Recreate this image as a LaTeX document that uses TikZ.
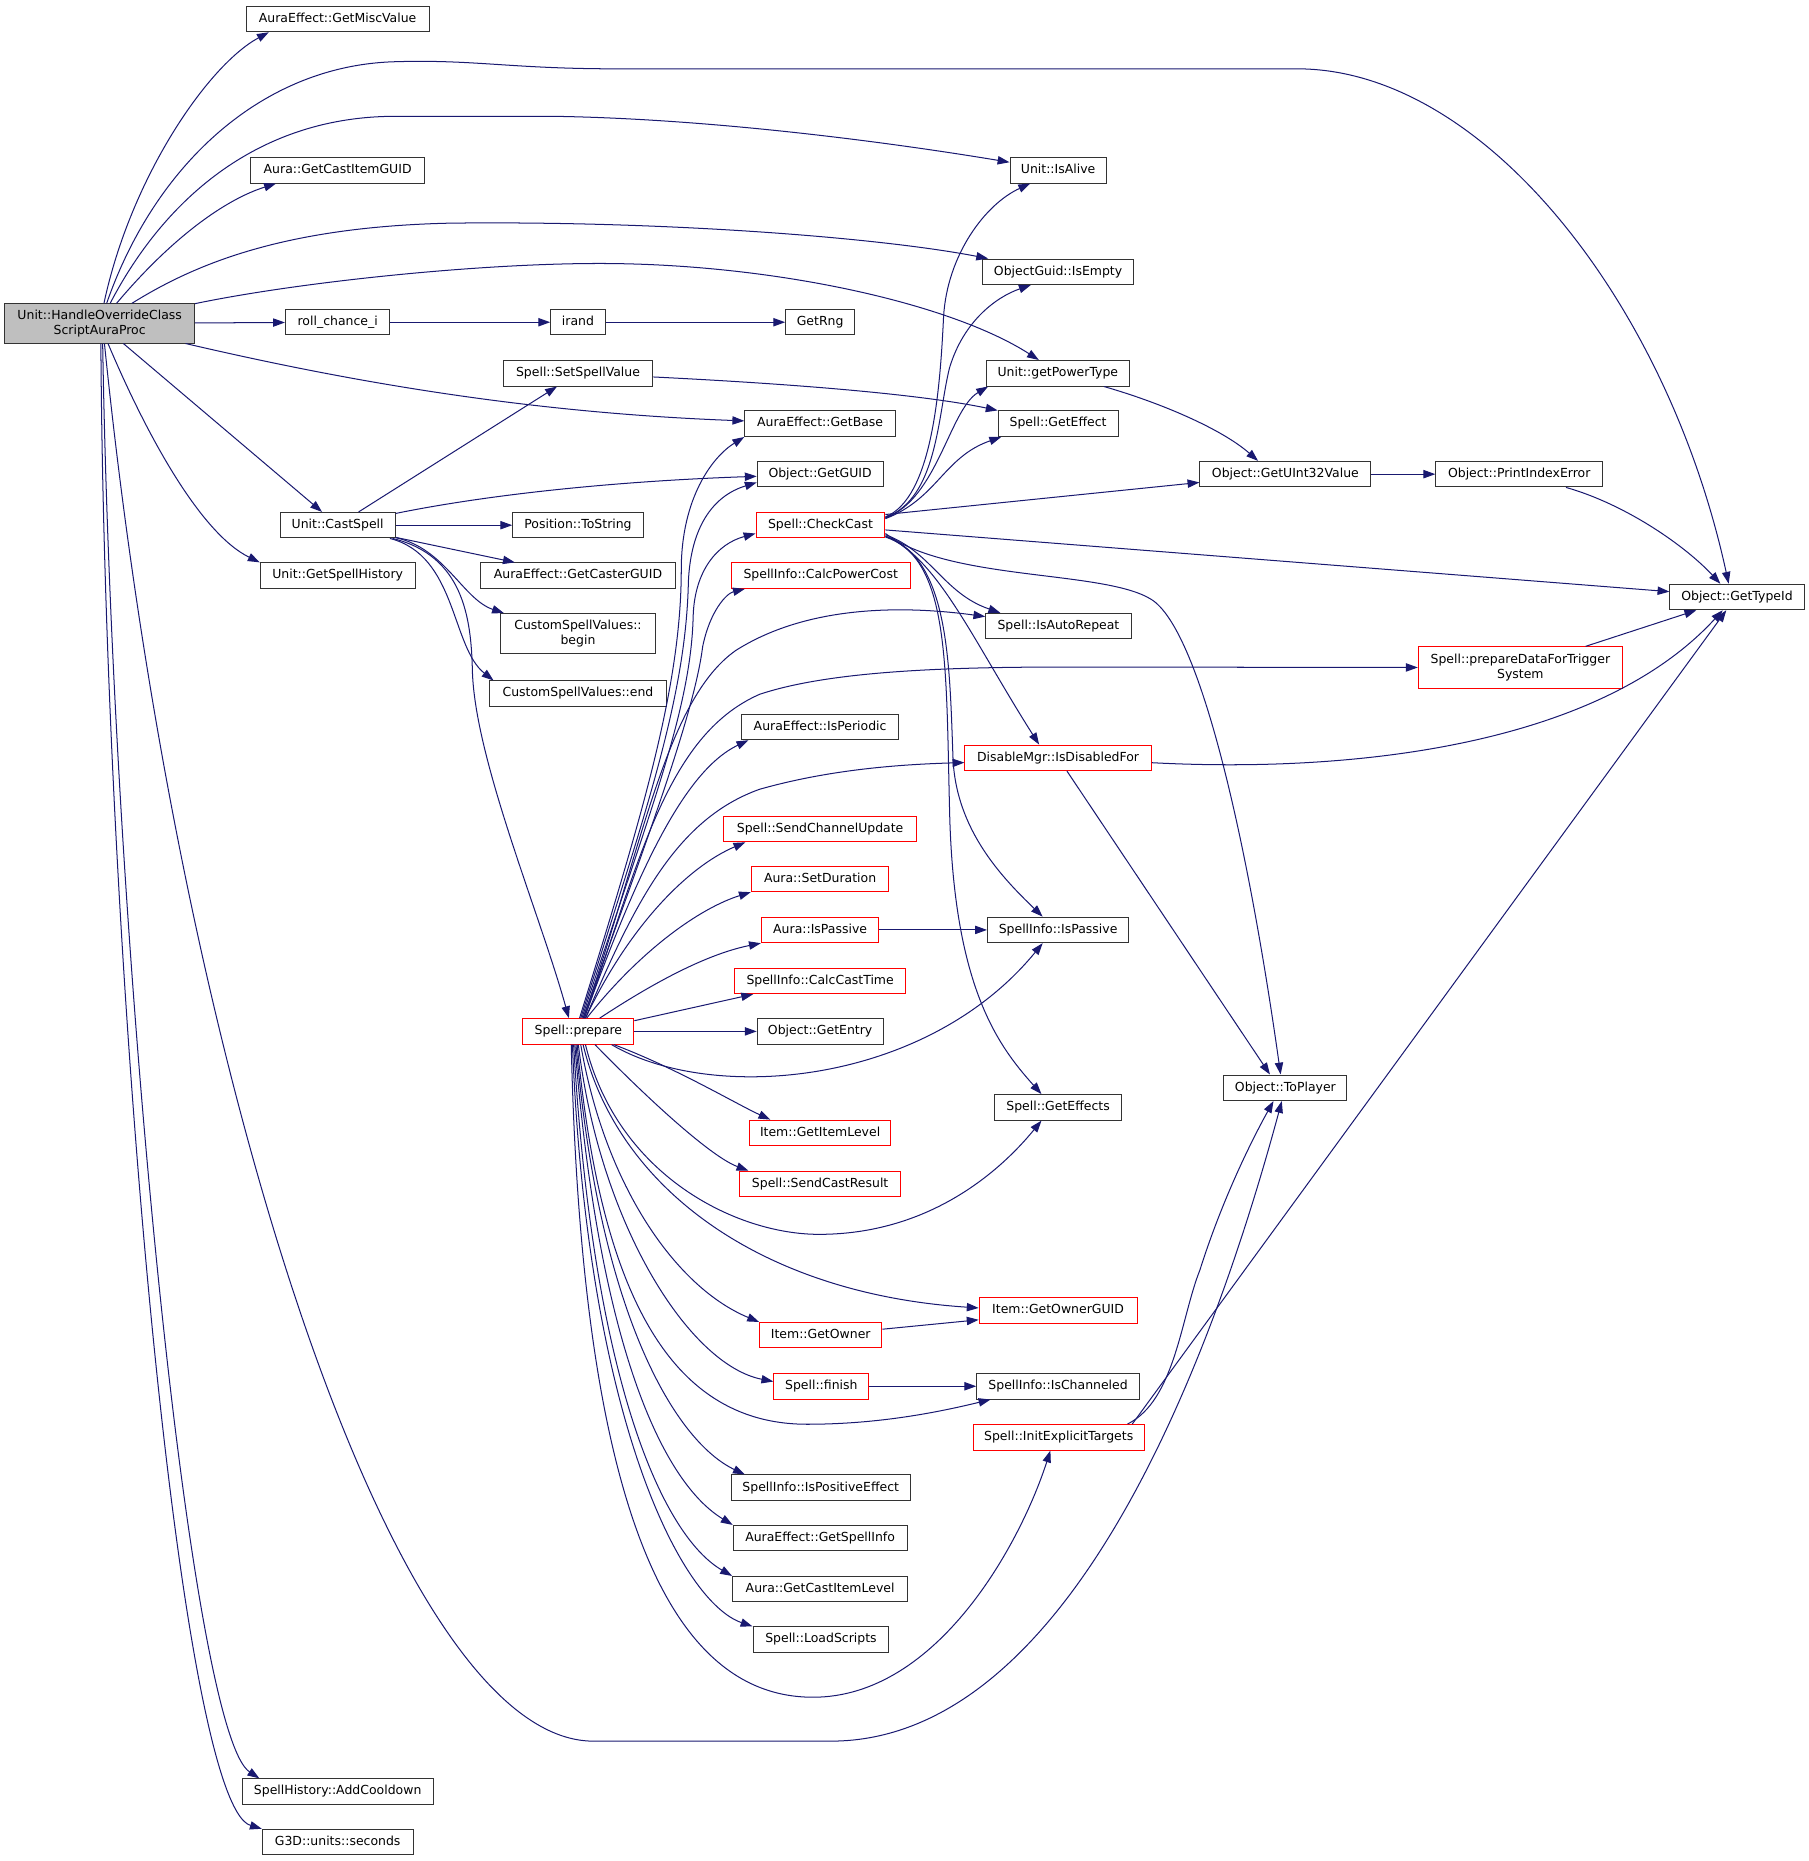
\documentclass[tikz,border=0pt]{standalone}
\usepackage{fontspec}
\setmainfont{DejaVu Sans}
\usetikzlibrary{arrows.meta}
\definecolor{edgeblue}{HTML}{191970}
\begin{document}
\begin{tikzpicture}[x=1pt, y=-1pt,
  fbox/.style={draw=black!80, fill=white, line width=0.85pt, inner xsep=2pt, inner ysep=0pt, font=\fontsize{10.5}{12.5}\selectfont},
  fn/.style={fbox, minimum height=21.5pt, text height=8pt, text depth=2.5pt},
  trunc/.style={draw=red},
  call/.style={draw=edgeblue, line width=0.85pt, -{Triangle[length=10pt, width=7pt]}}]
\useasboundingbox (0,0) rectangle (1524,1568);
\node[fbox, fill=black!25, minimum width=160pt, minimum height=33pt, align=center] (main) at (84,272.5) {Unit::HandleOverrideClass\\ScriptAuraProc};
\node[fn, minimum width=154pt] (miscval) at (284.5,16) {AuraEffect::GetMiscValue};
\node[fn, minimum width=147pt] (castguid) at (284.5,143.5) {Aura::GetCastItemGUID};
\node[fn, minimum width=88pt] (roll) at (284.5,271.5) {roll\_chance\_i};
\node[fn, minimum width=97pt] (castspell) at (284.5,442.5) {Unit::CastSpell};
\node[fn, minimum width=130.5pt] (history) at (284.5,485) {Unit::GetSpellHistory};
\node[fn, minimum width=161pt] (cooldown) at (284.5,1509.5) {SpellHistory::AddCooldown};
\node[fn, minimum width=127pt] (seconds) at (284.5,1552) {G3D::units::seconds};
\node[fn, minimum width=46pt] (irand) at (487,271.5) {irand};
\node[fn, minimum width=126pt] (setval) at (487,314.5) {Spell::SetSpellValue};
\node[fn, minimum width=110pt] (tostring) at (487,442.5) {Position::ToString};
\node[fn, minimum width=164.5pt] (casterguid) at (487,485) {AuraEffect::GetCasterGUID};
\node[fbox, minimum width=130pt, minimum height=34pt, align=center] (cvbegin) at (487,534) {CustomSpellValues::\\begin};
\node[fn, minimum width=149.5pt] (cvend) at (487,584.5) {CustomSpellValues::end};
\node[fn, trunc, minimum width=93.5pt] (prepare) at (487.3,869) {Spell::prepare};
\node[fn, minimum width=58pt] (getrng) at (691,271.5) {GetRng};
\node[fn, minimum width=127pt] (getbase) at (691,357) {AuraEffect::GetBase};
\node[fn, minimum width=106pt] (getguid) at (691,399.5) {Object::GetGUID};
\node[fn, trunc, minimum width=108.6pt] (checkcast) at (691.3,442.5) {Spell::CheckCast};
\node[fn, trunc, minimum width=151pt] (powercost) at (691.5,485) {SpellInfo::CalcPowerCost};
\node[fn, minimum width=132pt] (periodic) at (691,612.5) {AuraEffect::IsPeriodic};
\node[fn, trunc, minimum width=162.5pt] (chanupd) at (691,698.5) {Spell::SendChannelUpdate};
\node[fn, trunc, minimum width=116pt] (setdur) at (691,740.5) {Aura::SetDuration};
\node[fn, trunc, minimum width=99pt] (aurapassive) at (691,783.5) {Aura::IsPassive};
\node[fn, trunc, minimum width=144pt] (casttime) at (691,826.5) {SpellInfo::CalcCastTime};
\node[fn, minimum width=106pt] (getentry) at (691,869) {Object::GetEntry};
\node[fn, trunc, minimum width=119pt] (itemlevel) at (691,954.5) {Item::GetItemLevel};
\node[fn, trunc, minimum width=136pt] (castresult) at (691,997.5) {Spell::SendCastResult};
\node[fn, trunc, minimum width=103pt] (getowner) at (691.5,1125) {Item::GetOwner};
\node[fn, trunc, minimum width=80pt] (finish) at (692,1168) {Spell::finish};
\node[fn, minimum width=151pt] (positive) at (691.5,1253.5) {SpellInfo::IsPositiveEffect};
\node[fn, minimum width=146.5pt] (spellinfo) at (691,1296) {AuraEffect::GetSpellInfo};
\node[fn, minimum width=147.5pt] (castlevel) at (691,1339) {Aura::GetCastItemLevel};
\node[fn, minimum width=114.5pt] (loadscripts) at (691.7,1381.5) {Spell::LoadScripts};
\node[fn, minimum width=81pt] (isalive) at (891.5,143.5) {Unit::IsAlive};
\node[fn, minimum width=127pt] (isempty) at (891.5,229) {ObjectGuid::IsEmpty};
\node[fn, minimum width=120.7pt] (powertype) at (891.3,314.5) {Unit::getPowerType};
\node[fn, minimum width=101pt] (geteffect) at (891.5,357) {Spell::GetEffect};
\node[fn, minimum width=122.4pt] (autorepeat) at (891.8,527.5) {Spell::IsAutoRepeat};
\node[fn, trunc, minimum width=157pt] (disabled) at (891.5,638.5) {DisableMgr::IsDisabledFor};
\node[fn, minimum width=119pt] (infopassive) at (891.5,783.5) {SpellInfo::IsPassive};
\node[fn, minimum width=107pt] (geteffects) at (891.5,933) {Spell::GetEffects};
\node[fn, trunc, minimum width=133pt] (getownerguid) at (891.5,1104) {Item::GetOwnerGUID};
\node[fn, minimum width=137pt] (ischanneled) at (891.5,1168) {SpellInfo::IsChanneled};
\node[fn, trunc, minimum width=144pt] (initexpl) at (892,1211) {Spell::InitExplicitTargets};
\node[fn, minimum width=144pt] (getuint) at (1083,399.5) {Object::GetUInt32Value};
\node[fn, minimum width=103.6pt] (toplayer) at (1083,916.5) {Object::ToPlayer};
\node[fn, minimum width=140.5pt] (printerr) at (1280,399.5) {Object::PrintIndexError};
\node[fbox, trunc, minimum width=172pt, minimum height=35pt, align=center] (trigger) at (1281,562.5) {Spell::prepareDataForTrigger\\System};
\node[fn, minimum width=113pt] (typeid) at (1463.5,503) {Object::GetTypeId};
\draw[call] (main) .. controls (110,150) and (175,55) .. ([xshift=-58pt]miscval.south);
\draw[call] (main) .. controls (130,140) and (220,55) .. (333,52) .. controls (400,50) and (430,58) .. (520,58) -- (1093,58) .. controls (1250,58) and (1405,255) .. ([xshift=-7pt]typeid.north);
\draw[call] (main) .. controls (140,165) and (220,98) .. (333,98) -- (466,98) .. controls (600,100) and (750,120) .. (isalive);
\draw[call] (main) .. controls (145,200) and (190,168) .. ([xshift=-52pt]castguid.south);
\draw[call] (main) .. controls (165,222) and (240,191) .. (380,188) .. controls (560,186) and (740,200) .. ([xshift=5pt]isempty.north west);
\draw[call] (main) .. controls (250,238) and (400,222) .. (505,222) .. controls (650,222) and (800,255) .. ([xshift=-16pt]powertype.north);
\draw[call] (main) -- (roll);
\draw[call] (main) .. controls (300,323) and (450,348) .. (getbase);
\draw[call] (main) -- (castspell);
\draw[call] ([xshift=7pt]main.south) .. controls (125,370) and (170,450) .. (history.north west);
\draw[call] ([xshift=4pt]main.south) .. controls (150,900) and (330,1467) .. (500,1467) -- (700,1467) .. controls (900,1467) and (1020,1150) .. (toplayer);
\draw[call] ([xshift=2.5pt]main.south) .. controls (95,800) and (160,1460) .. ([xshift=-66pt]cooldown.north);
\draw[call] ([xshift=1pt]main.south) .. controls (88,800) and (150,1520) .. (seconds.north west);
\draw[call] (roll) -- (irand);
\draw[call] (irand) -- (getrng);
\draw[call] (castspell) -- (setval);
\draw[call] (castspell) .. controls (420,415) and (530,405) .. (getguid);
\draw[call] (castspell) -- (tostring);
\draw[call] (castspell) -- (casterguid);
\draw[call] (castspell) .. controls (375,462) and (390,505) .. ([xshift=3pt]cvbegin.north west);
\draw[call] (castspell) .. controls (385,468) and (380,545) .. ([xshift=4pt]cvend.north west);
\draw[call] (castspell) .. controls (390,468) and (397,520) .. (398,565) .. controls (400,640) and (455,770) .. ([xshift=-8pt]prepare.north);
\draw[call] (setval) .. controls (680,324) and (780,333) .. (geteffect.north west);
\draw[call] (powertype) .. controls (980,340) and (1030,362) .. ([xshift=-23pt]getuint.north);
\draw[call] (getuint) -- (printerr);
\draw[call] (printerr) .. controls (1370,425) and (1420,460) .. ([xshift=-14pt]typeid.north);
\draw[call] (trigger) -- (typeid);
\draw[call] (disabled) .. controls (1150,652) and (1350,625) .. ([xshift=-12pt]typeid.south);
\draw[call] (disabled) -- ([xshift=-13pt]toplayer.north);
\draw[call] ([xshift=58pt]initexpl.north) .. controls (990,1180) and (995,1110) .. (1011,1070) .. controls (1030,1010) and (1055,960) .. ([xshift=-10pt]toplayer.south);
\draw[call] ([xshift=62pt]initexpl.north) -- ([xshift=-9pt]typeid.south);
\draw[call] (aurapassive) -- (infopassive);
\draw[call] (getowner) -- ([yshift=-8pt]getownerguid.west);
\draw[call] (finish) -- (ischanneled);
\draw[call] ([yshift=7pt]checkcast.east) .. controls (785,420) and (792,330) .. (795,267) .. controls (798,215) and (830,172) .. ([xshift=-23.5pt]isalive.south);
\draw[call] ([yshift=6.5pt]checkcast.east) .. controls (790,420) and (790,350) .. (800,310) .. controls (812,270) and (840,250) .. ([xshift=-23pt]isempty.south);
\draw[call] ([yshift=6pt]checkcast.east) .. controls (790,420) and (800,345) .. ([xshift=2pt]powertype.south west);
\draw[call] ([yshift=5.5pt]checkcast.east) .. controls (790,420) and (795,385) .. ([xshift=3pt]geteffect.south west);
\draw[call] ([yshift=9pt]checkcast.east) -- ([yshift=-7pt]getuint.west);
\draw[call] ([yshift=-4pt]checkcast.east) -- ([yshift=4.5pt]typeid.west);
\draw[call] ([yshift=-7pt]checkcast.east) .. controls (800,490) and (930,480) .. (970,505) .. controls (1010,530) and (1050,700) .. ([xshift=-4pt]toplayer.north);
\draw[call] ([yshift=-8pt]checkcast.east) .. controls (785,465) and (795,500) .. ([xshift=-49pt]autorepeat.north);
\draw[call] ([yshift=-9pt]checkcast.east) .. controls (790,470) and (820,540) .. ([xshift=-16pt]disabled.north);
\draw[call] ([yshift=-9.5pt]checkcast.east) .. controls (800,470) and (800,560) .. (803,640) .. controls (806,700) and (845,740) .. ([xshift=-13pt]infopassive.north);
\draw[call] ([yshift=-10pt]checkcast.east) .. controls (800,470) and (797,560) .. (800,680) .. controls (803,830) and (840,880) .. ([xshift=-14pt]geteffects.north);
\draw[call] ([xshift=1pt]prepare.north) .. controls (540,690) and (574,580) .. (574,480) .. controls (574,420) and (600,385) .. (getbase.south west);
\draw[call] ([xshift=2pt]prepare.north) .. controls (542,690) and (578,590) .. (580,490) .. controls (582,445) and (600,418) .. ([yshift=-7pt]getguid.west);
\draw[call] ([xshift=3pt]prepare.north) .. controls (545,690) and (582,600) .. (584,520) .. controls (585,480) and (605,458) .. ([yshift=-7pt]checkcast.west);
\draw[call] ([xshift=4pt]prepare.north) .. controls (548,700) and (585,600) .. (592,545) .. controls (598,515) and (612,500) .. ([xshift=12pt]powercost.south west);
\draw[call] ([xshift=4pt]prepare.north) .. controls (540,720) and (560,590) .. (620,548) .. controls (680,510) and (760,510) .. ([yshift=8pt]autorepeat.west);
\draw[call] ([xshift=5pt]prepare.north) .. controls (538,730) and (560,620) .. (640,585) .. controls (700,565) and (800,562) .. (900,562) -- (trigger);
\draw[call] ([xshift=5pt]prepare.north) .. controls (535,740) and (575,650) .. ([xshift=6pt]periodic.south west);
\draw[call] ([xshift=6pt]prepare.north) .. controls (535,760) and (570,690) .. (640,665) .. controls (700,648) and (760,644) .. ([yshift=-4pt]disabled.west);
\draw[call] ([xshift=6pt]prepare.north) .. controls (530,780) and (580,730) .. ([xshift=-63pt]chanupd.south);
\draw[call] ([xshift=7pt]prepare.north) .. controls (540,800) and (590,765) .. (setdur.south west);
\draw[call] ([xshift=18pt]prepare.north) .. controls (540,835) and (590,805) .. (aurapassive.south west);
\draw[call] ([yshift=9pt]prepare.east) -- ([xshift=16pt]casttime.south west);
\draw[call] (prepare) -- (getentry);
\draw[call] ([xshift=28pt]prepare.south) .. controls (600,930) and (780,915) .. ([xshift=-13pt]infopassive.south);
\draw[call] ([xshift=30pt]prepare.south) .. controls (570,900) and (620,930) .. ([xshift=18pt]itemlevel.north west);
\draw[call] ([xshift=14pt]prepare.south) .. controls (550,930) and (600,975) .. ([xshift=8pt]castresult.north west);
\draw[call] ([xshift=6pt]prepare.south) .. controls (520,990) and (620,1040) .. (690,1040) .. controls (780,1040) and (840,990) .. ([xshift=-14pt]geteffects.south);
\draw[call] ([xshift=4pt]prepare.south) .. controls (520,1000) and (640,1090) .. ([yshift=2pt]getownerguid.west);
\draw[call] ([xshift=2pt]prepare.south) .. controls (510,1000) and (570,1085) .. (getowner.north west);
\draw[call] (prepare.south) .. controls (505,1030) and (580,1150) .. ([yshift=4pt]finish.west);
\draw[call] ([xshift=-1pt]prepare.south) .. controls (505,1080) and (560,1200) .. (680,1200) .. controls (740,1200) and (790,1190) .. ([xshift=12pt]ischanneled.south west);
\draw[call] ([xshift=-2pt]prepare.south) .. controls (505,1110) and (570,1215) .. ([xshift=12pt]positive.north west);
\draw[call] ([xshift=-3pt]prepare.south) .. controls (505,1140) and (560,1250) .. (spellinfo.north west);
\draw[call] ([xshift=-4pt]prepare.south) .. controls (500,1170) and (560,1295) .. (castlevel.north west);
\draw[call] ([xshift=-5pt]prepare.south) .. controls (495,1200) and (575,1350) .. (loadscripts.north west);
\draw[call] ([xshift=-6pt]prepare.south) .. controls (490,1260) and (560,1430) .. (685,1430) .. controls (790,1430) and (860,1300) .. ([xshift=-7pt]initexpl.south);
\end{tikzpicture}
\end{document}
